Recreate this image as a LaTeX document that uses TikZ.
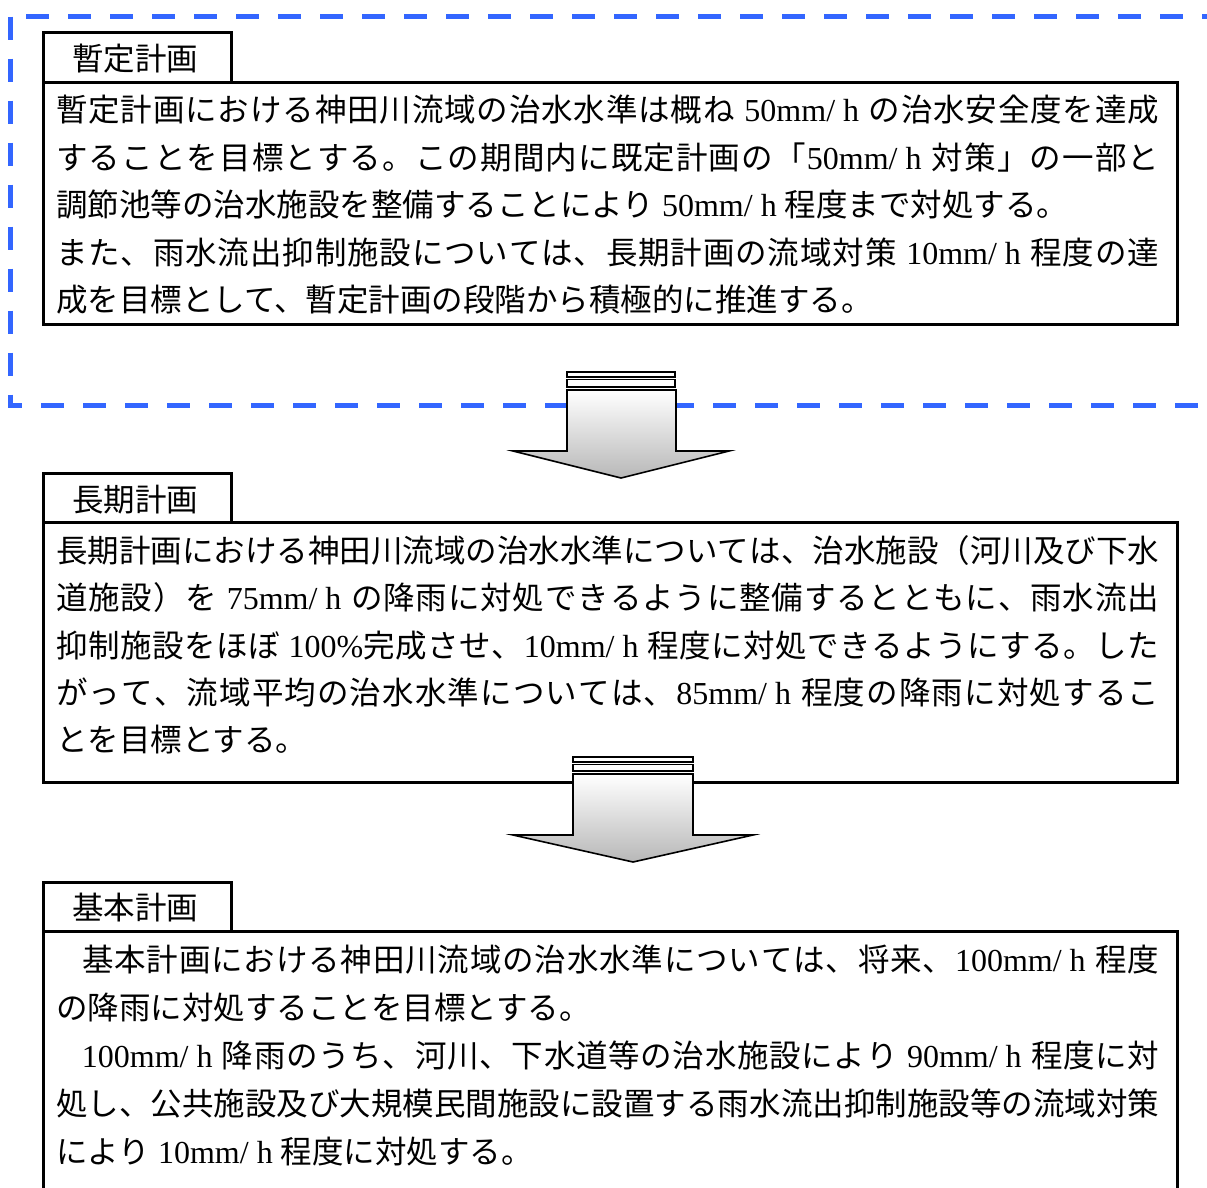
\documentclass[tikz,border=0pt]{standalone}
\usepackage{fontspec}
\newfontfamily\jp{Noto Sans CJK JP}
\newfontfamily\latf{Liberation Serif}
\definecolor{dashblue}{RGB}{51,102,255}
\newcommand\lat[1]{{\latf\fontsize{32pt}{48pt}\selectfont #1}}
\newcommand\mh[1]{\lat{#1mm/\hspace{8pt}h}}
\newcommand\gap{\hspace{8pt}}
\ExplSyntaxOn
\cs_new_protected:Npn \jspread #1
  {
    \cs_set:Npn \__jsp_sep: { }
    \tl_map_inline:nn {#1}
      {
        \__jsp_sep: ##1
        \cs_set:Npn \__jsp_sep: { \hskip 0pt plus 1pt minus 0.4pt }
      }
  }
\ExplSyntaxOff
\newcommand\jline[1]{\makebox[1103pt][s]{\jspread{#1}}}
\tikzset{
  boxline/.style={line width=3pt, draw=black},
  dashline/.style={line width=5pt, draw=dashblue, dash pattern=on 23pt off 19pt},
  txt/.style={inner sep=0pt, anchor=base west, font=\jp\fontsize{31.5pt}{48pt}\selectfont},
  arrowline/.style={line width=1.6pt, draw=black, line join=miter},
  barstyle/.style={line width=1.4pt, draw=black, fill=white},
}
\begin{document}
\begin{tikzpicture}[x=1pt,y=-1pt]
\useasboundingbox (0,0) rectangle (1207,1187);
% dashed frame
\draw[dashline] (10,16.5) -- (10,405.5) -- (1240,405.5);
\draw[dashline, dash phase=26pt] (10,16.5) -- (1240,16.5);

% box 1
\draw[boxline] (43,82) -- (43,32) -- (231,32) -- (231,82);
\draw[boxline] (43,82) rectangle (1177,324);
\node[txt] (h1) at (72,70) {暫定計画};
\node[txt] (a1) at (56,121) {\jline{暫定計画における神田川流域の治水水準は概ね\gap{\mh{50}}\gap の治水安全度を達成}};
\node[txt] (a2) at (56,169) {\jline{することを目標とする。この期間内に既定計画の「{\mh{50}}\gap 対策」の一部と}};
\node[txt] (a3) at (56,216) {調節池等の治水施設を整備することにより\gap\mh{50}\gap 程度まで対処する。};
\node[txt] (a4) at (56,264) {\jline{また、雨水流出抑制施設については、長期計画の流域対策\gap{\mh{10}}\gap 程度の達}};
\node[txt] (a5) at (56,311) {成を目標として、暫定計画の段階から積極的に推進する。};

% box 2
\draw[boxline] (43,522) -- (43,473) -- (231,473) -- (231,522);
\draw[boxline] (43,522) rectangle (1177,782);
\node[txt] (h2) at (72,511) {長期計画};
\node[txt] (b1) at (56,562) {\jline{長期計画における神田川流域の治水水準については、治水施設（河川及び下水}};
\node[txt] (b2) at (56,609) {\jline{道施設）を\gap{\mh{75}}\gap の降雨に対処できるように整備するとともに、雨水流出}};
\node[txt] (b3) at (56,657) {\jline{抑制施設をほぼ\gap{\lat{100\%}}完成させ、{\mh{10}}\gap 程度に対処できるようにする。した}};
\node[txt] (b4) at (56,704) {\jline{がって、流域平均の治水水準については、{\mh{85}}\gap 程度の降雨に対処するこ}};
\node[txt] (b5) at (56,751) {とを目標とする。};

% box 3
\draw[boxline] (43,931) -- (43,882) -- (231,882) -- (231,931);
\draw[boxline] (43,1200) -- (43,931) -- (1177,931) -- (1177,1200);
\node[txt] (h3) at (72,919) {基本計画};
\node[txt] (c1) at (56,971) {\jline{{\hspace{25pt}}基本計画における神田川流域の治水水準については、将来、{\mh{100}}\gap 程度}};
\node[txt] (c2) at (56,1019) {の降雨に対処することを目標とする。};
\node[txt] (c3) at (56,1067) {\jline{{\hspace{25pt}}{\mh{100}}\gap 降雨のうち、河川、下水道等の治水施設により\gap{\mh{90}}\gap 程度に対}};
\node[txt] (c4) at (56,1115) {\jline{処し、公共施設及び大規模民間施設に設置する雨水流出抑制施設等の流域対策}};
\node[txt] (c5) at (56,1163) {により\gap\mh{10}\gap 程度に対処する。};

% arrow 1
\shade[top color=white, bottom color=black!28] (567,390) -- (676,390) -- (676,451) -- (729,451) -- (621,478) -- (513,451) -- (567,451) -- cycle;
\draw[arrowline] (567,390) -- (676,390) -- (676,451) -- (729,451) -- (621,478) -- (513,451) -- (567,451) -- cycle;
\draw[barstyle] (567,372) rectangle (675,377);
\draw[barstyle] (567,379.5) rectangle (675,387);

% arrow 2
\shade[top color=white, bottom color=black!28] (573,774) -- (693,774) -- (693,835) -- (753,835) -- (633,862) -- (513,835) -- (573,835) -- cycle;
\draw[arrowline] (573,774) -- (693,774) -- (693,835) -- (753,835) -- (633,862) -- (513,835) -- (573,835) -- cycle;
\draw[barstyle] (573,757) rectangle (693,762);
\draw[barstyle] (573,764.5) rectangle (693,771);
\end{tikzpicture}
\end{document}
